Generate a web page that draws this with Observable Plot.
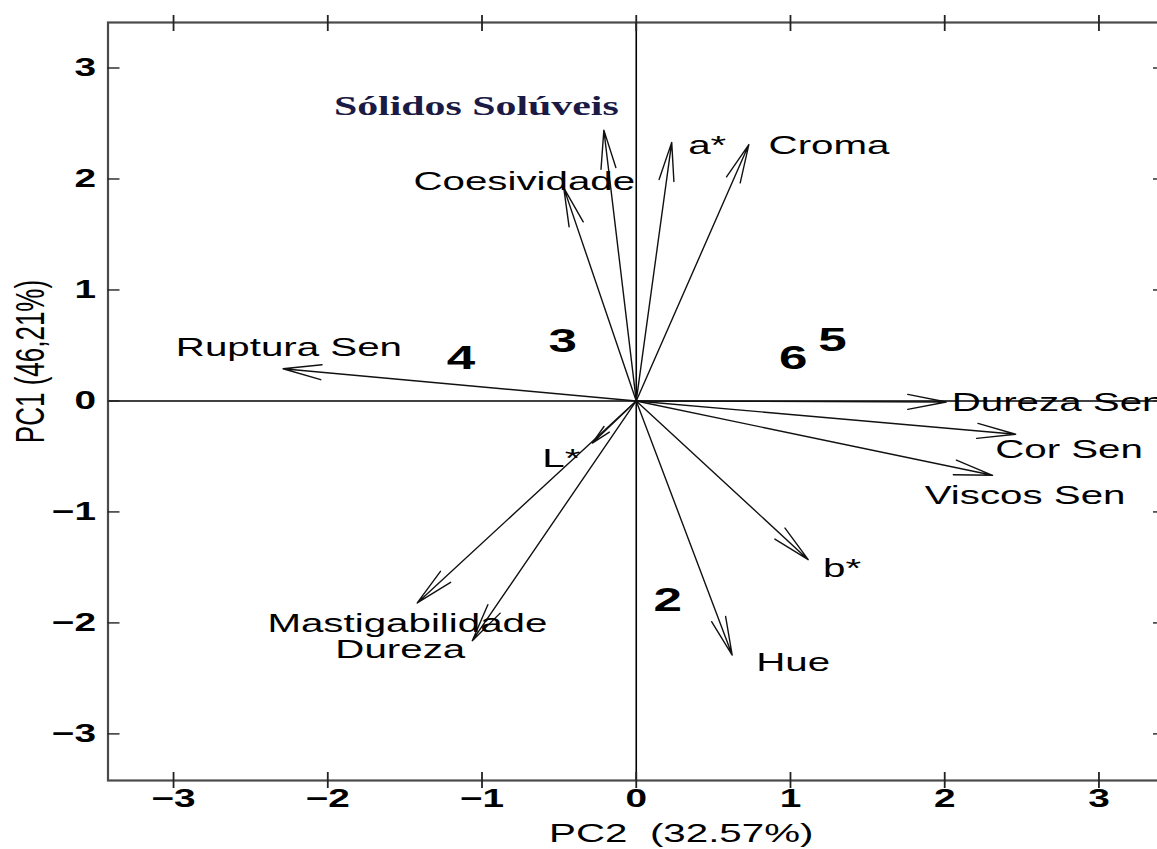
<!DOCTYPE html>
<html>
<head>
<meta charset="utf-8">
<script src="https://cdn.jsdelivr.net/npm/d3@7"></script>
<script src="https://cdn.jsdelivr.net/npm/@observablehq/plot@0.6"></script>
<style>
  html, body { margin: 0; padding: 0; background: #fff; }
  #chart { width: 1157px; height: 849px; overflow: hidden; }
</style>
</head>
<body>
<div id="chart"></div>
<script>
// Variable loadings (arrow tips) in PC2 (x) / PC1 (y) units
const variables = ["Sólidos Solúveis", "a*", "Croma", "Coesividade", "Ruptura Sen", "Dureza Sen", "Cor Sen", "Viscos Sen", "b*", "Hue", "Mastigabilidade", "Dureza", "L*"];
const pc2 = [-0.21, 0.23, 0.73, -0.47, -2.29, 2.01, 2.46, 2.31, 1.115, 0.622, -1.42, -1.063, -0.285];
const pc1 = [2.44, 2.33, 2.31, 1.92, 0.29, -0.01, -0.30, -0.67, -1.43, -2.29, -1.82, -2.16, -0.38];
// Label centres for each variable
const labelPc2 = [-1.037, 0.46, 1.25, -0.726, -2.252, 2.735, 2.806, 2.521, 1.335, 1.017, -1.484, -1.53, -0.486];
const labelPc1 = [2.653, 2.30, 2.30, 1.98, 0.477, -0.02, -0.437, -0.851, -1.509, -2.36, -2.009, -2.239, -0.518];
// Sample scores
const samples = ["2", "3", "4", "5", "6"];
const samplePc2 = [0.204, -0.476, -1.137, 1.273, 1.017];
const samplePc1 = [-1.797, 0.54, 0.383, 0.545, 0.383];
// Ticks
const xTicks = [-3, -2, -1, 0, 1, 2, 3];
const yTicks = [-3, -2, -1, 0, 1, 2, 3];
const xLabel = "PC2  (32.57%)";
const yLabel = "PC1 (46,21%)";

const arrows = variables.map((name, i) => ({name, x: pc2[i], y: pc1[i]}));
const labels = variables.map((name, i) => ({name, x: labelPc2[i], y: labelPc1[i], serif: name === "Sólidos Solúveis"}));
const points = samples.map((name, i) => ({name, x: samplePc2[i], y: samplePc1[i]}));

const SANS = "'Liberation Sans', Arial, Helvetica, sans-serif";
const SERIF = "'Liberation Serif', 'Times New Roman', serif";
const fmt = d => (d < 0 ? "\u2212" : "") + Math.abs(d);

const chart = Plot.plot({
  width: 1157,
  height: 849,
  marginLeft: 107.5,
  marginRight: -7,
  marginTop: 22,
  marginBottom: 69,
  x: {domain: [-3.425, 3.425]},
  y: {domain: [-3.42, 3.41]},
  style: {background: "#fff", fontFamily: SANS, color: "#000", overflow: "hidden"},
  marks: [
    Plot.ruleX([0], {stroke: "#000", strokeWidth: 1.6}),
    Plot.ruleY([0], {stroke: "#000", strokeWidth: 1.6}),
    Plot.frame({stroke: "#4a4a4a", strokeWidth: 2.2}),
    // bottom ticks crossing the frame
    Plot.axisX(xTicks, {anchor: "bottom", tickSize: 16, dy: -8, fill: "none", label: null, stroke: "#222", strokeWidth: 1.8}),
    Plot.axisX(xTicks, {anchor: "bottom", tickSize: 0, tickPadding: 9, tickFormat: fmt, label: null, fontSize: 25, fontWeight: "bold"}),
    // top ticks crossing the frame
    Plot.axisX(xTicks, {anchor: "top", tickSize: 16, dy: 8, fill: "none", label: null, stroke: "#222", strokeWidth: 1.8}),
    // left ticks pointing inward
    Plot.axisY(yTicks, {anchor: "left", tickSize: 12, dx: 12, fill: "none", label: null, stroke: "#222", strokeWidth: 1.4}),
    Plot.axisY(yTicks, {anchor: "left", tickSize: 0, tickPadding: 12, tickFormat: fmt, label: null, fontSize: 25, fontWeight: "bold"}),
    // right ticks pointing inward
    Plot.axisY(yTicks, {anchor: "right", tickSize: 12, dx: -12, fill: "none", label: null, stroke: "#222", strokeWidth: 1.4}),
    // variable arrows
    Plot.arrow(arrows, {x1: () => 0, y1: () => 0, x2: "x", y2: "y", stroke: "#111", strokeWidth: 1.4, headLength: 42, headAngle: 22}),
    // variable labels
    Plot.text(labels.filter(d => !d.serif), {x: "x", y: "y", text: "name", fontSize: 26, fill: "#000", textAnchor: "middle", lineAnchor: "middle"}),
    Plot.text(labels.filter(d => d.serif), {x: "x", y: "y", text: "name", fontSize: 27, fontWeight: "bold", fontFamily: SERIF, fill: "#1a1a44", textAnchor: "middle", lineAnchor: "middle"}),
    // sample numbers
    Plot.text(points, {x: "x", y: "y", text: "name", fontSize: 33, fontWeight: "bold", fill: "#000", lineAnchor: "middle"}),
    // axis titles
    Plot.text([xLabel], {frameAnchor: "bottom", textAnchor: "middle", lineAnchor: "middle", dx: 45, dy: 53, fontSize: 26, fill: "#000"}),
    Plot.text([yLabel], {frameAnchor: "left", textAnchor: "middle", lineAnchor: "middle", dx: -77, dy: -40, rotate: -90, fontSize: 26, fill: "#000"})
  ]
});

// horizontal stretch of the lettering, as in the reference image
const S = 1.55;
d3.select(chart).selectAll("text").each(function() {
  const el = this;
  let t = el.getAttribute("transform") || "";
  const x = el.getAttribute("x");
  if (x !== null && !isNaN(+x)) {
    t += ` translate(${+x},0)`;
    el.removeAttribute("x");
  }
  const rotated = /rotate\(/.test(t) || /rotate\(/.test(el.parentNode.getAttribute("transform") || "");
  t += rotated ? ` scale(1,${S})` : ` scale(${S},1)`;
  el.setAttribute("transform", t.trim());
});

document.getElementById("chart").appendChild(chart);
</script>
</body>
</html>
